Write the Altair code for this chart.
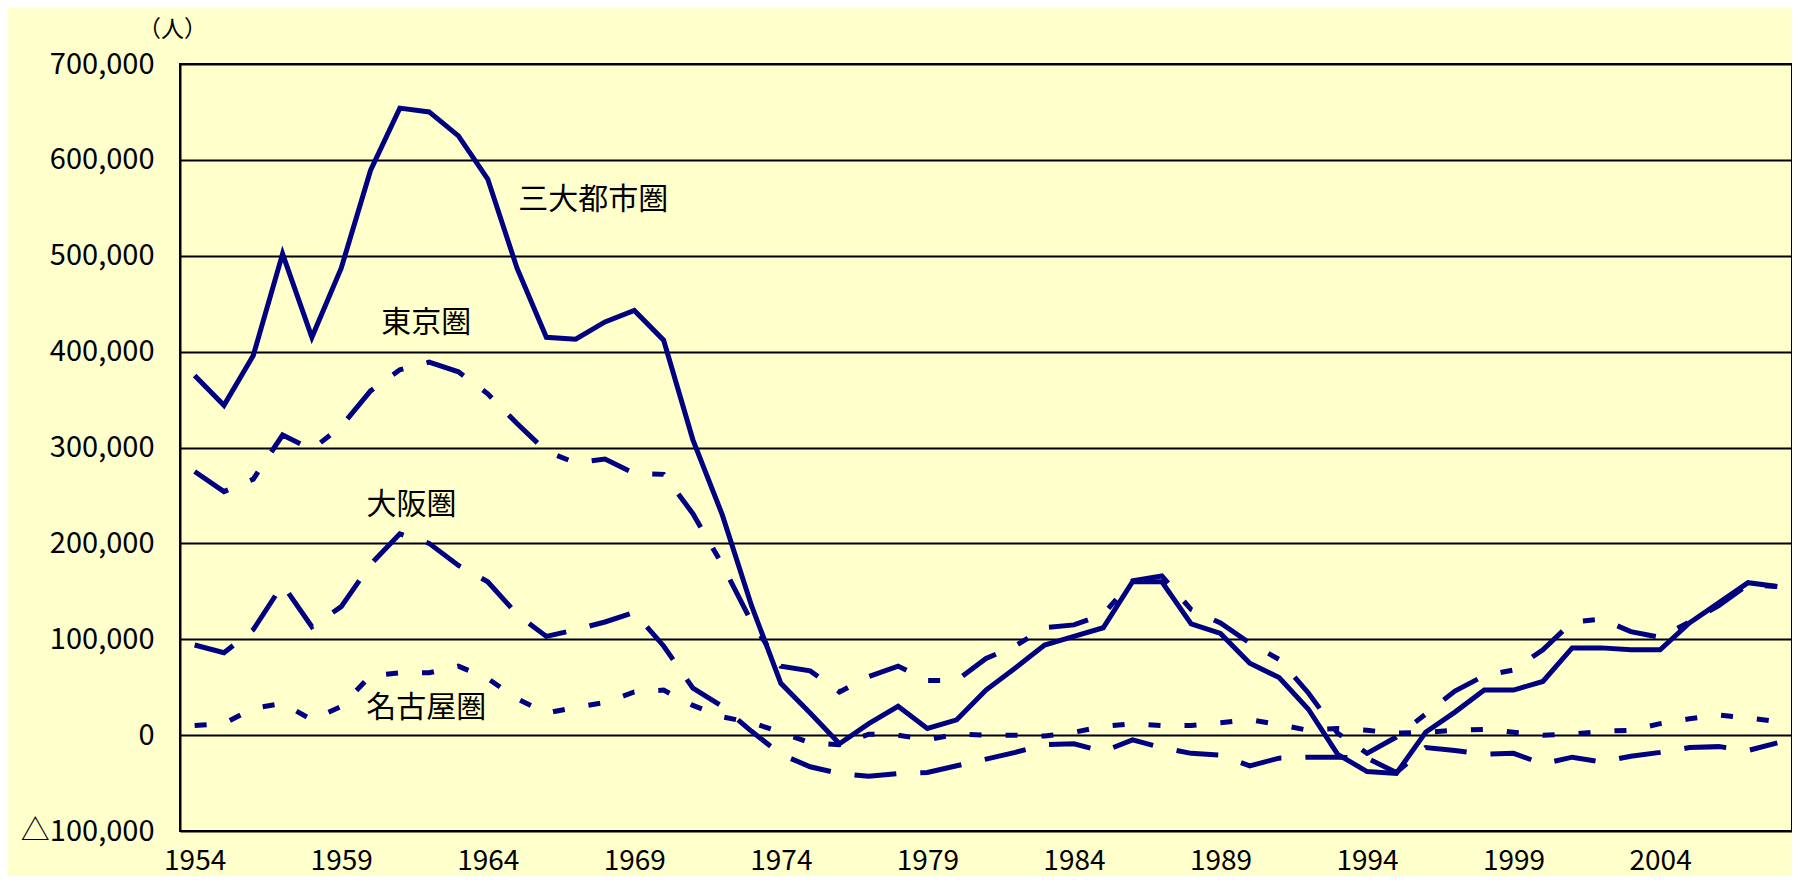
import altair as alt
import pandas as pd

years = list(range(1954, 2009))

total = [375000, 344000, 396000, 502000, 415000, 487000, 589000, 654000, 650000, 625000,
         580000, 487000, 415000, 413000, 431000, 443000, 412000, 308000, 230000, 135000,
         54000, 23000, -9000, 12000, 30000, 7000, 16000, 47000, 70000, 94000,
         103000, 112000, 160000, 160000, 116000, 106000, 75000, 60000, 27000, -20000,
         -38000, -40000, 3000, 24000, 47000, 47000, 56000, 91000, 91000, 89000,
         89000, 117000, 138000, 159000, 155000]

tokyo = [275000, 254000, 267000, 313000, 298000, 322000, 359000, 381000, 389000, 379000,
         356000, 325000, 296000, 284000, 288000, 273000, 272000, 231000, 178000, 118000,
         72000, 67000, 45000, 61000, 72000, 57000, 57000, 80000, 93000, 112000,
         115000, 126000, 161000, 166000, 131000, 117000, 96000, 79000, 44000, 2000,
         -19000, -2000, 22000, 46000, 62000, 68000, 89000, 118000, 121000, 108000,
         102000, 118000, 135000, 157000, 155000]

osaka = [94000, 86000, 110000, 157000, 113000, 134000, 178000, 210000, 200000, 177000,
         160000, 126000, 103000, 110000, 118000, 128000, 93000, 49000, 30000, 4000,
         -20000, -33000, -40000, -43000, -40000, -39000, -32000, -25000, -18000, -10000,
         -9000, -17000, -5000, -13000, -19000, -21000, -32000, -24000, -23000, -23000,
         -24000, -39000, -13000, -16000, -20000, -19000, -30000, -23000, -28000, -22000,
         -18000, -13000, -12000, -16000, -8000]

nagoya = [10000, 12000, 28000, 33000, 16000, 30000, 62000, 65000, 65000, 72000,
          59000, 38000, 23000, 29000, 34000, 45000, 47000, 31000, 19000, 13000,
          3000, -8000, -10000, 1000, 0, -5000, 1000, 0, 0, -1000,
          3000, 9000, 12000, 10000, 10000, 13000, 16000, 11000, 5000, 7000,
          5000, 2000, 3000, 5000, 6000, 3000, 0, 1000, 4000, 5000,
          12000, 17000, 21000, 18000, 14000]

series_names = ["三大都市圏", "東京圏", "大阪圏", "名古屋圏"]
series_values = [total, tokyo, osaka, nagoya]
series_dash = [[1, 0], [40, 24, 12, 24], [42, 24], [12, 24]]

label_text = ["三大都市圏", "東京圏", "大阪圏", "名古屋圏"]
label_year = [1967.6, 1961.9, 1961.4, 1961.9]
label_value = [558000, 430000, 240000, 28000]

x_ticks = list(range(1954, 2005, 5))
y_ticks = list(range(-100000, 700001, 100000))

FONT = "Noto Sans CJK JP"
NAVY = "#000080"

rows = []
for name, vals in zip(series_names, series_values):
    for y, v in zip(years, vals):
        rows.append({"year": y, "value": v, "series": name})
df = pd.DataFrame(rows)

x_enc = alt.X("year:Q",
              scale=alt.Scale(domain=[1953.5, 2008.5], nice=False, zero=False),
              axis=alt.Axis(values=x_ticks, format="d", grid=False, ticks=False,
                            domain=False, labelFontSize=28, labelPadding=16,
                            labelFont=FONT, labelColor="black", title=None,
                            labelFlush=False))
y_enc = alt.Y("value:Q",
              scale=alt.Scale(domain=[-100000, 700000], nice=False, zero=False),
              axis=alt.Axis(values=y_ticks, grid=True, gridColor="black", gridWidth=2,
                            gridOpacity=1, ticks=False, domain=True, domainColor="black",
                            domainWidth=2, labelFontSize=29, labelPadding=26,
                            labelFont=FONT, labelColor="black",
                            labelExpr="datum.value < 0 ? '△' + format(-datum.value, ',') : format(datum.value, ',')",
                            title="（人）", titleAngle=0, titleX=-8, titleY=-35,
                            titleAlign="center", titleBaseline="middle",
                            titleFontSize=23, titleFontWeight="normal",
                            titleFont=FONT, titleColor="black"))

layers = []
for name, dash in zip(series_names, series_dash):
    sub = df[df["series"] == name]
    props = dict(color=NAVY, strokeWidth=5, strokeCap="butt", strokeJoin="miter")
    if name != "三大都市圏":
        props["strokeDash"] = dash
    layers.append(alt.Chart(sub).mark_line(**props).encode(x=x_enc, y=y_enc))

labels_df = pd.DataFrame({"text": label_text, "year": label_year, "value": label_value})
labels = alt.Chart(labels_df).mark_text(
    font=FONT, fontSize=30, color="black", align="center", baseline="middle"
).encode(x=alt.X("year:Q"), y=alt.Y("value:Q"), text="text:N")

chart = alt.layer(*layers, labels).properties(
    width=1612, height=767,
    autosize=alt.AutoSizeParams(type="none"),
    padding={"left": 172, "top": 56, "right": 0, "bottom": 45},
).configure(background="#FFFFCC", font=FONT).configure_view(
    stroke="black", strokeWidth=2
)

chart.save("out.html", embed_options={"renderer": "svg", "actions": False})
